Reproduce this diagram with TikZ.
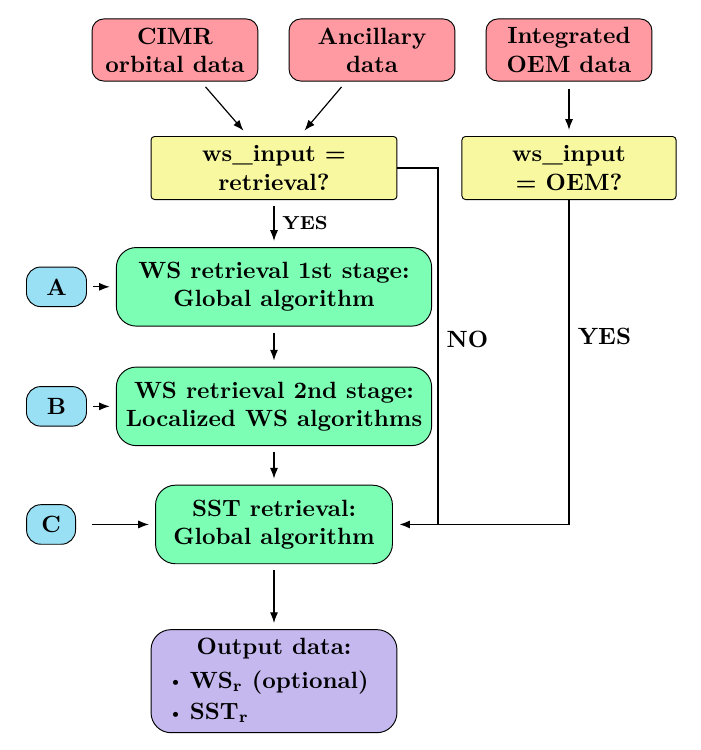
\documentclass[tikz,border=0pt]{standalone}
\usepackage{tikz}
\usetikzlibrary{arrows.meta, positioning, calc}
\definecolor{SrcRed}{HTML}{FF9AA2}
\definecolor{TestYellow}{HTML}{F8F8A0}
\definecolor{StageGreen}{HTML}{7CFFB4}
\definecolor{AuxBlue}{HTML}{99E0F4}
\definecolor{OutPurple}{HTML}{C5B8EF}
\newcommand{\outitem}{\raisebox{0.6pt}{\scriptsize\textbullet}\hspace{2.5pt}}
\tikzset{
  base box/.style={draw, align=center, font=\bfseries, inner sep=2pt,
                   line width=0.4pt},
  src box/.style={base box, fill=SrcRed, rounded corners=5pt,
                  minimum width=70.5pt, minimum height=26.4pt},
  test box/.style={base box, fill=TestYellow, rounded corners=1.5pt,
                   minimum height=26.8pt},
  stage box/.style={base box, fill=StageGreen, rounded corners=8.5pt,
                    minimum height=33.4pt},
  aux box/.style={base box, fill=AuxBlue, rounded corners=6pt,
                  minimum height=16.8pt},
  out box/.style={base box, fill=OutPurple, rounded corners=8.5pt,
                  minimum width=104.5pt, minimum height=43.8pt},
  flow arrow/.style={-{Latex[length=1.6mm, width=1.2mm]}, line width=0.5pt,
                     shorten <=2.6pt, shorten >=2.6pt},
  branch line/.style={line width=0.8pt},
}
\begin{document}
\begin{tikzpicture}[x=0.425pt, y=-0.425pt, node distance=17pt and 12.3pt]
  \useasboundingbox (0,0) rectangle (700,750);
  % input data
  \node[src box] (cimr) at (175,50) {CIMR\\orbital data};
  \node[src box] (anc) at (372,50) {Ancillary\\data};
  \node[src box] (oemdata) at (569,50) {Integrated\\OEM data};
  % decisions
  \node[test box, minimum width=104.5pt] (wsret) at (274,168) {ws\_input =\\retrieval?};
  \node[test box, minimum width=91pt] (wsoem) at (569,168) {ws\_input\\= OEM?};
  % retrieval chain
  \node[stage box, minimum width=134pt, below=20pt of wsret] (stage1)
    {WS retrieval 1st stage:\\Global algorithm};
  \node[stage box, minimum width=134pt, below=of stage1] (stage2)
    {WS retrieval 2nd stage:\\Localized WS algorithms};
  \node[stage box, minimum width=100.7pt, below=16.4pt of stage2] (sst)
    {SST retrieval:\\Global algorithm};
  \node[out box, below=27.6pt of sst] (out)
    {\begin{tabular}{@{}l@{}}
       \multicolumn{1}{@{}c@{}}{Output data:}\\[2.5pt]
       \outitem WS\textsubscript{r} (optional)\kern5pt\\[1.2pt]
       \outitem SST\textsubscript{r}
     \end{tabular}};
  \node[aux box, minimum width=25.5pt, left=of stage1] (auxA) {A};
  \node[aux box, minimum width=25.5pt, left=of stage2] (auxB) {B};
  \node[aux box, minimum width=20.8pt, left=33.6pt of sst] (auxC) {C};
  \coordinate (merge) at ($(sst.east)+(45,0)$);
  % connectors
  \draw[flow arrow, shorten <=3pt, shorten >=3pt]
    ([xshift=11pt]cimr.south) -- ([xshift=-11pt]wsret.north);
  \draw[flow arrow, shorten <=3pt, shorten >=3pt]
    ([xshift=-11pt]anc.south) -- ([xshift=11pt]wsret.north);
  \draw[flow arrow, shorten <=3pt] (oemdata) -- (wsoem);
  \draw[flow arrow] (wsret) -- node[right, font=\footnotesize\bfseries] {YES} (stage1);
  \draw[flow arrow] (stage1) -- (stage2);
  \draw[flow arrow] (stage2) -- (sst);
  \draw[flow arrow] (sst) -- (out);
  \draw[flow arrow] (auxA) -- (stage1);
  \draw[flow arrow] (auxB) -- (stage2);
  \draw[flow arrow, shorten <=7pt] (auxC) -- (sst);
  \draw[branch line] (wsret.east) -| node[pos=0.74, right, font=\bfseries] {NO} (merge);
  \draw[branch line] (wsoem.south) |- node[pos=0.21, right, font=\bfseries] {YES} (merge);
  \draw[flow arrow, branch line, shorten <=0pt] (merge) -- (sst);
\end{tikzpicture}
\end{document}
